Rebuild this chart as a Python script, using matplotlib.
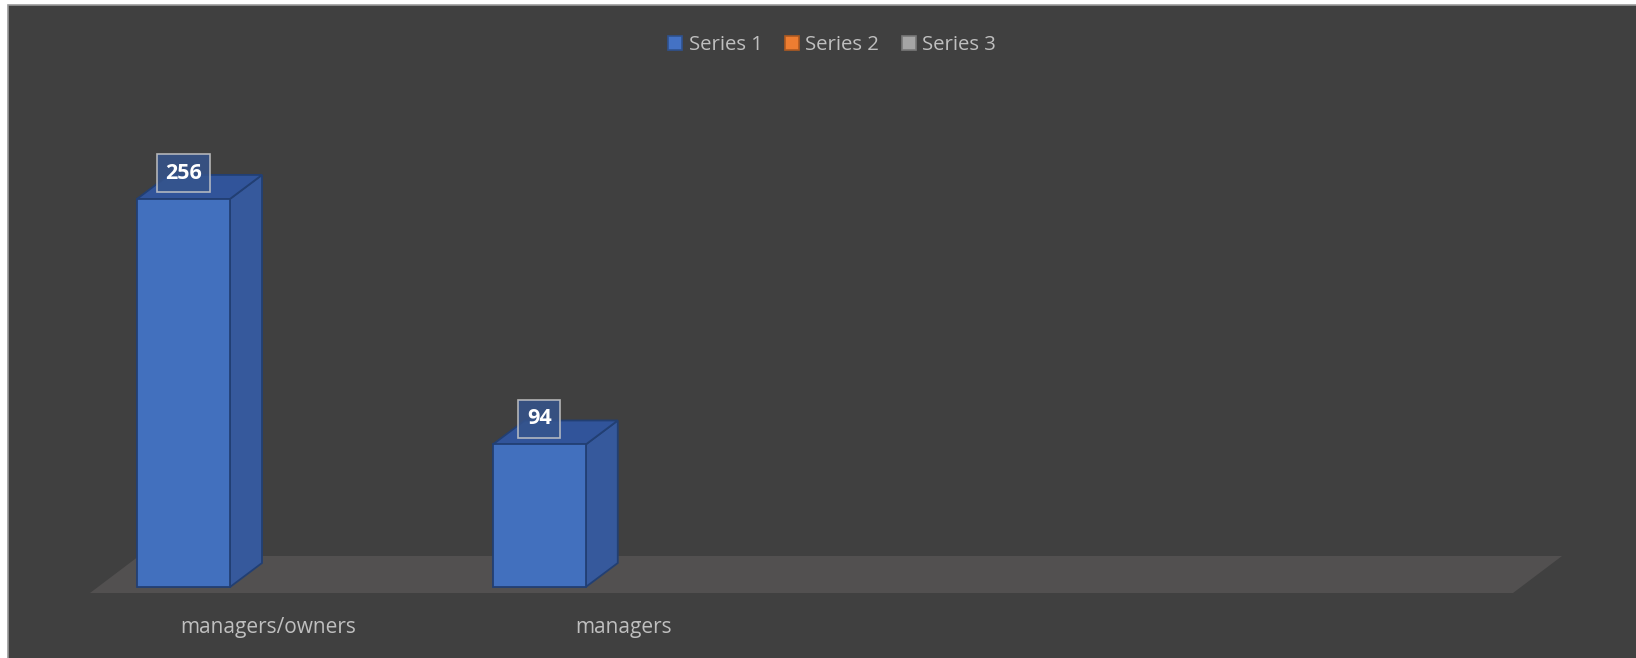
import matplotlib
matplotlib.use("Agg")
import matplotlib.pyplot as plt
from matplotlib.patches import Rectangle, Patch

# data
categories = ["managers/owners", "managers", "", ""]
series_names = ["Series 1", "Series 2", "Series 3"]
series1 = [256, 94, None, None]
series_colors = ["#4472C4", "#ED7D31", "#A5A5A5"]
series_edges = ["#2F528F", "#AE5A21", "#787878"]

BG = "#404040"
TXT = "#BFBFBF"
FONT = "Open Sans"

W, H = 1636, 658
fig = plt.figure(figsize=(W / 100, H / 100), dpi=100)
fig.patch.set_facecolor("white")
# chart area with thin border, leaves a small white margin at left/top
fig.add_artist(Rectangle((8 / W, -0.01), 1.02, 1 - 5 / H + 0.01,
                         transform=fig.transFigure, facecolor=BG,
                         edgecolor="#9a9a9a", lw=1.2, zorder=0))

k = 1.516  # px per value unit
ax_bottom, ax_top = 600, 100
ymin = -(ax_bottom - 587) / k
ax = fig.add_axes([90 / W, 1 - ax_bottom / H, 1423 / W, (ax_bottom - ax_top) / H])
ax.set_xlim(-0.5, len(categories) - 0.5)
ax.set_ylim(ymin, ymin + (ax_bottom - ax_top) / k)
ax.axis("off")
ax.set_facecolor("none")

cat_px = 1423 / len(categories)
bar_w = 93 / cat_px
bar_off = 47 / cat_px
bdx, bdy = 32 / cat_px, 24 / k
fdx = 49 / cat_px
f_front, f_back = -6 / k, 31 / k

# floor
x0, x1 = -0.5, len(categories) - 0.5
ax.fill([x0, x1, x1 + fdx, x0 + fdx], [f_front, f_front, f_back, f_back],
        color="#525050", lw=0, zorder=1, clip_on=False)

# 3d bars for series 1
for i, v in enumerate(series1):
    if v is None:
        continue
    l = i - 0.5 + bar_off
    r = l + bar_w
    ax.fill([r, r + bdx, r + bdx, r], [0, bdy, v + bdy, v],
            facecolor="#36599c", edgecolor="#223f73", lw=1.3, zorder=2)
    ax.fill([l, r, r + bdx, l + bdx], [v, v, v + bdy, v + bdy],
            facecolor="#31549a", edgecolor="#223f73", lw=1.3, zorder=2)
    ax.fill([l, r, r, l], [0, 0, v, v],
            facecolor="#4270BE", edgecolor="#223f73", lw=1.3, zorder=3)
    ax.text((l + r) / 2, v + bdy + 1, str(v), ha="center", va="center",
            color="white", fontsize=15.5, fontweight="bold", family=FONT,
            zorder=5,
            bbox=dict(boxstyle="square,pad=0.4", facecolor="#35548c",
                      edgecolor="#c8c8c8", lw=1.2, alpha=0.85))

# category labels
for i, c in enumerate(categories):
    ax.text(i, -40 / k, c, ha="center", va="center", color=TXT,
            fontsize=15, family=FONT)

handles = [Patch(facecolor=c, edgecolor=e, lw=1.2)
           for c, e in zip(series_colors, series_edges)]
leg = fig.legend(handles, series_names, loc="center", ncol=3,
                 bbox_to_anchor=(0.5086, 1 - 45 / H), frameon=False,
                 handlelength=0.7, handleheight=0.7, handletextpad=0.3,
                 columnspacing=1.1, prop={"family": FONT, "size": 14.7})
for t in leg.get_texts():
    t.set_color(TXT)

fig.savefig("out.png", dpi=100, facecolor=fig.get_facecolor())
